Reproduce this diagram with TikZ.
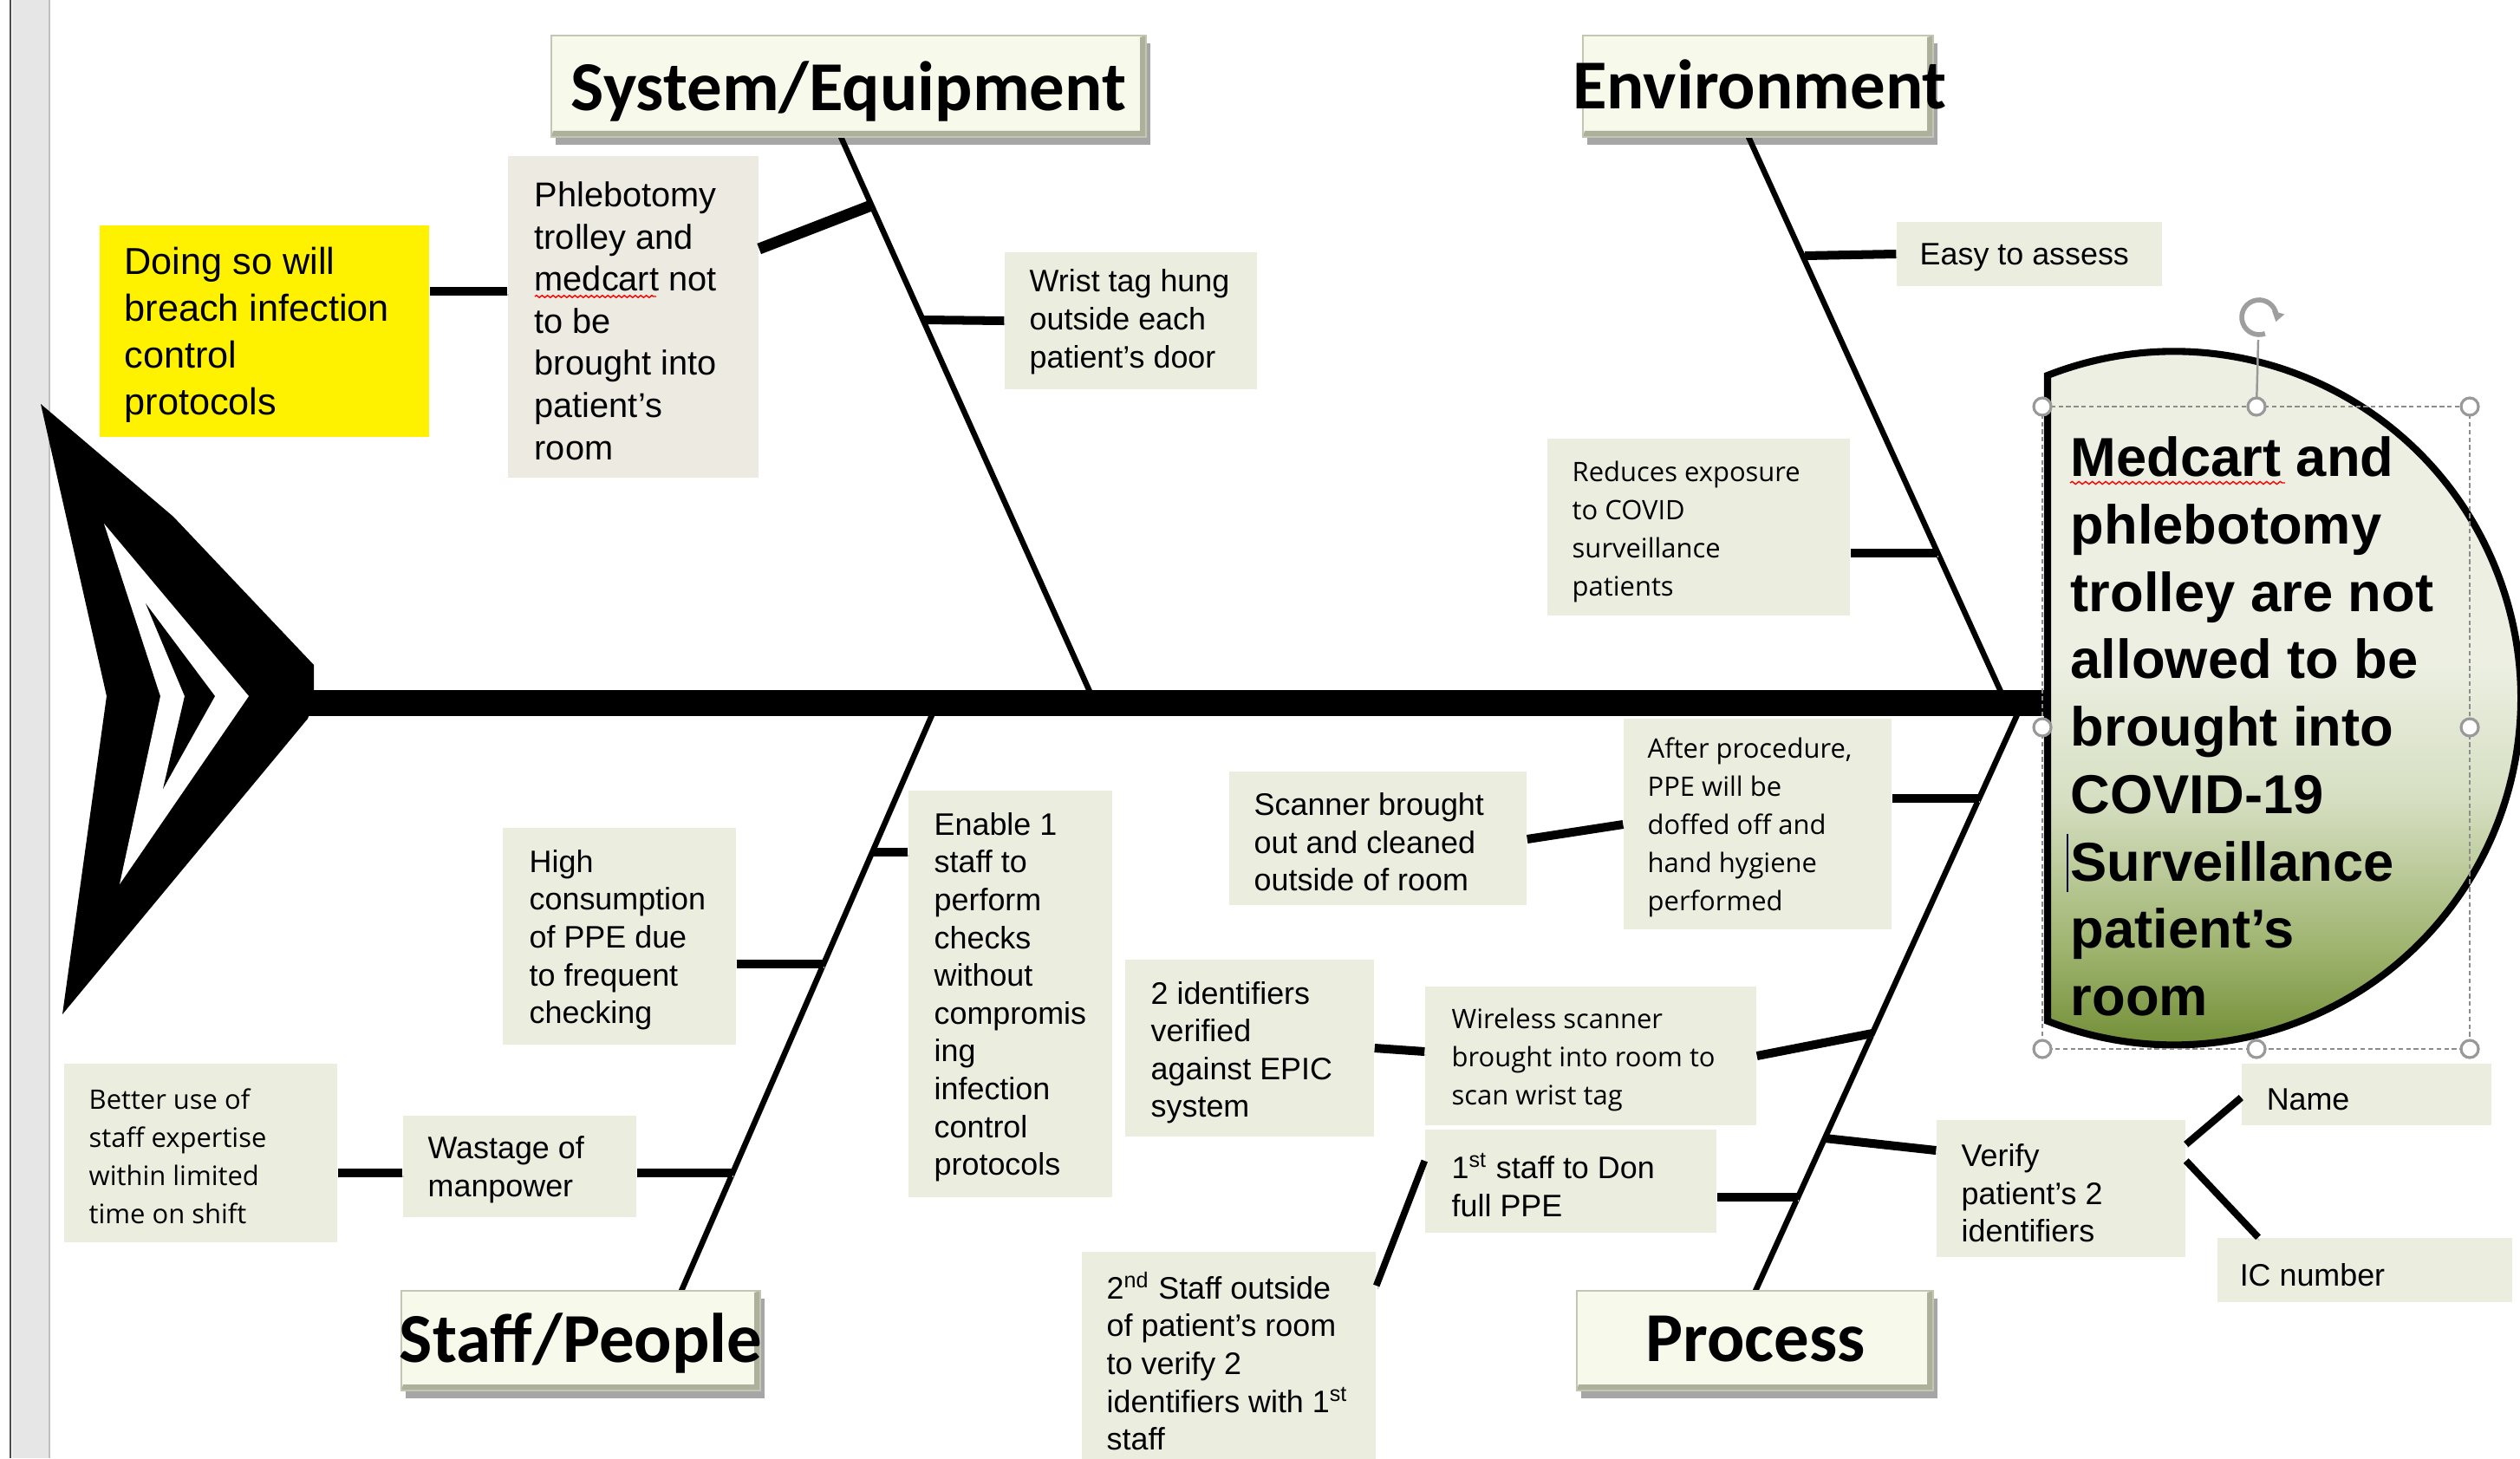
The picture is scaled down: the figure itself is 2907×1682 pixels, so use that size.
\documentclass[tikz,border=0pt]{standalone}
\usepackage{fontspec}
\setmainfont{Liberation Sans}
\newfontfamily\osfont{Open Sans}
\newfontfamily\cbfont{Carlito}
\usetikzlibrary{fit,shadows,decorations.pathmorphing,arrows.meta}
\definecolor{boxfill}{HTML}{EBEEDF}
\definecolor{phlfill}{HTML}{ECEAE1}
\definecolor{labfill}{HTML}{F7F9EA}
\definecolor{labedge}{HTML}{C3C6B2}
\definecolor{labbev}{HTML}{ADB09B}
\definecolor{hgA}{HTML}{6F8C33}
\definecolor{hgB}{HTML}{9FB46F}
\definecolor{hgC}{HTML}{D6DFC2}
\definecolor{hgD}{HTML}{ECEFE2}
\definecolor{barfill}{HTML}{E6E6E6}
\pgfdeclareverticalshading{headshade}{100bp}{color(0bp)=(hgA); color(25bp)=(hgA); color(32bp)=(hgB); color(42bp)=(hgC); color(51bp)=(hgD); color(100bp)=(hgD)}
\newcommand{\myA}{\fontsize{10.2}{12.4}\selectfont}
\newcommand{\myO}{\osfont\fontsize{8.8}{12.5}\selectfont}
\begin{document}
\begin{tikzpicture}[x=0.01cm, y=-0.01cm,
  cbox/.style={fill=boxfill, draw=none, inner sep=0pt},
  txt/.style={anchor=west, align=left, inner sep=0pt, font=\myA, yshift=-1.2pt},
  labbox/.style={fill=labfill, draw=labedge, line width=0.5pt, inner sep=0pt,
    drop shadow={shadow xshift=0.05cm, shadow yshift=-0.09cm, opacity=0.35, fill=black},
    path picture={
      \fill[labbev] (path picture bounding box.south west) -- (path picture bounding box.south east) -- (path picture bounding box.north east) -- ([xshift=-0.07cm,yshift=-0.02cm]path picture bounding box.north east) -- ([shift={(-0.07cm,0.07cm)}]path picture bounding box.south east) -- ([shift={(0.02cm,0.07cm)}]path picture bounding box.south west) -- cycle;
    }},
  labtxt/.style={anchor=base, inner sep=0pt, font=\cbfont\bfseries\fontsize{23}{27}\selectfont},
  conn/.style={line width=2.85pt, preaction={draw=black!22, transform canvas={shift={(0.4pt,-1.1pt)}}}},
  bone/.style={line width=1.85pt, preaction={draw=black!20, transform canvas={shift={(0.6pt,-0.6pt)}}}},
  handle/.style={fill=white, draw=black!40, line width=0.9pt}
]
\useasboundingbox (0,0) rectangle (2907,1682);
\fill[white] (0,0) rectangle (2907,1682);
% left window bar
\fill[barfill] (14,0) rectangle (57,1682);
\draw[black!70, line width=0.6pt] (12,0) -- (12,1682);
\draw[black!25, line width=0.6pt] (57,0) -- (57,1682);

% bone coordinates
\coordinate (sysTop) at (970,158);
\coordinate (sysSp) at (1263,811);
\coordinate (envTop) at (2017,158);
\coordinate (envSp) at (2314,811);
\coordinate (staffBot) at (786,1489);
\coordinate (staffSp) at (1081,811);
\coordinate (procBot) at (2025,1489);
\coordinate (procSp) at (2333,811);
\coordinate (bP) at (1005,237);
\coordinate (bW) at (1065,369);
\coordinate (bE) at (2082,295);
\coordinate (bR) at (2235,638);
\coordinate (bEn) at (1006,983);
\coordinate (bH) at (950,1112);
\coordinate (bWa) at (845,1353);
\coordinate (bA) at (2283,921);
\coordinate (bWi) at (2160,1192);
\coordinate (bF) at (2074,1381);
\coordinate (bV) at (2105,1313);
\coordinate (tailR) at (355,811);
\coordinate (headL) at (2362,811);

% bones
\draw[bone] (sysTop) -- (sysSp);
\draw[bone] (envTop) -- (envSp);
\draw[bone] (staffBot) -- (staffSp);
\draw[bone] (procBot) -- (procSp);

% spine
\draw[line width=8.5pt, preaction={draw=black!25, transform canvas={yshift=-1.6pt}}] (tailR) -- (headL);

% tail
\fill[black] (47,466) -- (200,596) -- (362,767) -- (362,811) -- (355,829) -- (72,1170) -- (123,803) -- cycle;
\fill[white] (120,604) -- (287,803) -- (138,1020) -- (185,803) -- cycle;
\fill[black] (168,696) -- (248,803) -- (188,910) -- (213,803) -- cycle;

% head
\shadedraw[shading=headshade, draw=black, line width=2.3pt] (2362,433) arc[start angle=-111.4, end angle=111.4, radius=400] -- cycle;
\node[anchor=west, align=left, inner sep=0pt, font=\bfseries\fontsize{18}{22.1}\selectfont] (head) at (2388,838) {Medcart and\\phlebotomy\\trolley are not\\allowed to be\\brought into\\COVID-19\\Surveillance\\patient’s\\room};
\draw[red, line width=0.4pt, decorate, decoration={snake, amplitude=0.45pt, segment length=2.2pt}] (2388,557) -- (2636,557);
\draw[black!75!blue, line width=0.4pt] (2385,962) -- (2385,1029);

% category labels
\node[labbox, fit={(636,41)(1322,158)}] (sys) {};
\node[labtxt] (syst) at (979,128) {System/Equipment};
\node[labbox, fit={(1826,41)(2230,158)}] (env) {};
\node[labtxt] (envt) at (2030,126) {Environment};
\node[labbox, fit={(463,1489)(877,1604)}] (staff) {};
\node[labtxt] (stafft) at (670,1571) {Staff/People};
\node[labbox, fit={(1819,1489)(2230,1604)}] (proc) {};
\node[labtxt] (proct) at (2025,1570) {Process};

% boxes
\node[cbox, fill=yellow, fit={(115,260)(495,504)}] (Y) {};
\node[txt, font=\fontsize{12.3}{15.4}\selectfont] (Yt) at (143,382) {Doing so will\\breach infection\\control\\protocols};
\node[cbox, fill=phlfill, fit={(586,180)(875,551)}] (P) {};
\node[txt, font=\fontsize{11.3}{13.8}\selectfont] (Pt) at (616,366) {Phlebotomy\\trolley and\\medcart not\\to be\\brought into\\patient’s\\room};
\draw[red, line width=0.4pt, decorate, decoration={snake, amplitude=0.35pt, segment length=1.8pt}] (617,342) -- (757,342);
\node[cbox, fit={(1159,291)(1450,449)}] (W) {};
\node[txt] (Wt) at (1187,367) {Wrist tag hung\\outside each\\patient’s door};
\node[cbox, fit={(2188,256)(2494,330)}] (E) {};
\node[txt] (Et) at (2214,293) {Easy to assess};
\node[cbox, fit={(1785,506)(2134,710)}] (R) {};
\node[txt, font=\myO] (Rt) at (1813,609) {Reduces exposure\\to COVID\\surveillance\\patients};
\node[cbox, fit={(1873,829)(2182,1072)}] (A) {};
\node[txt, font=\myO] (At) at (1900,950) {After procedure,\\PPE will be\\doffed off and\\hand hygiene\\performed};
\node[cbox, fit={(1418,890)(1761,1044)}] (S) {};
\node[txt] (St) at (1446,967) {Scanner brought\\out and cleaned\\outside of room};
\node[cbox, fit={(1048,912)(1283,1381)}] (En) {};
\node[txt] (Ent) at (1077,1146) {Enable 1\\staff to\\perform\\checks\\without\\compromis\\ing\\infection\\control\\protocols};
\node[cbox, fit={(580,955)(849,1205)}] (H) {};
\node[txt] (Ht) at (610,1080) {High\\consumption\\of PPE due\\to frequent\\checking};
\node[cbox, fit={(465,1287)(734,1404)}] (Wa) {};
\node[txt] (Wat) at (493,1345) {Wastage of\\manpower};
\node[cbox, fit={(74,1227)(389,1433)}] (B) {};
\node[txt, font=\myO] (Bt) at (102,1330) {Better use of\\staff expertise\\within limited\\time on shift};
\node[cbox, fit={(1298,1107)(1585,1311)}] (T) {};
\node[txt] (Tt) at (1327,1210) {2 identifiers\\verified\\against EPIC\\system};
\node[cbox, fit={(1644,1138)(2026,1298)}] (Wi) {};
\node[txt, font=\myO] (Wit) at (1674,1218) {Wireless scanner\\brought into room to\\scan wrist tag};
\node[cbox, fit={(1644,1303)(1980,1422)}] (F) {};
\node[txt] (Ft) at (1674,1363) {1\textsuperscript{st} staff to Don\\full PPE};
\node[cbox, fit={(1248,1444)(1587,1700)}] (Se) {};
\node[txt] (Set) at (1276,1566) {2\textsuperscript{nd} Staff outside\\of patient's room\\to verify 2\\identifiers with 1\textsuperscript{st}\\staff};
\node[cbox, fit={(2234,1292)(2521,1450)}] (V) {};
\node[txt] (Vt) at (2262,1372) {Verify\\patient's 2\\identifiers};
\node[cbox, fit={(2586,1227)(2874,1298)}] (N) {};
\node[txt] (Nt) at (2614,1264) {Name};
\node[cbox, fit={(2558,1428)(2898,1502)}] (I) {};
\node[txt] (It) at (2583,1466) {IC number};

% connectors
\draw[conn] (Y.east |- 0,336) -- (P.west |- 0,336);
\draw[conn, line width=3.7pt] (P.east |- 0,287) -- (bP);
\draw[conn] (bW) -- (W.west);
\draw[conn] (bE) -- (E.west);
\draw[conn] (R.east |- 0,638) -- (bR);
\draw[conn] (A.east |- 0,921) -- (bA);
\draw[conn] (S.east |- 0,968) -- (A.west |- 0,951);
\draw[conn] (bEn) -- (En.west |- 0,983);
\draw[conn] (H.east |- 0,1112) -- (bH);
\draw[conn] (Wa.east |- 0,1353) -- (bWa);
\draw[conn] (B.east |- 0,1353) -- (Wa.west |- 0,1353);
\draw[conn] (T.east |- 0,1209) -- (Wi.west |- 0,1213);
\draw[conn] (Wi.east |- 0,1218) -- (bWi);
\draw[conn] (F.east |- 0,1381) -- (bF);
\draw[conn, line width=2.2pt] (Se.east |- 0,1483) -- (F.west |- 0,1339);
\draw[conn] (V.west |- 0,1327) -- (bV);
\draw[conn, line width=2.3pt] (V.east |- 0,1320) -- (N.west |- 0,1266);
\draw[conn, line width=2.3pt] (V.east |- 0,1339) -- (I.north -| 2605,0);

% selection handles
\draw[black!45, line width=0.5pt, dash pattern=on 1.5pt off 1pt] (2356,469) rectangle (2849,1210);
\draw[black!40, line width=0.7pt] (2603,469) -- (2605,392);
\draw[black!38, line width=1.6pt, -{Triangle[length=0.11cm, width=0.14cm]}] ([shift={(70:20)}]2606,366) arc[start angle=70, end angle=375, radius=20];
\foreach \hx/\hy in {2356/469, 2603/469, 2849/469, 2356/839, 2849/839, 2356/1210, 2603/1210, 2849/1210}
  \draw[handle] (\hx,\hy) circle (10);
\end{tikzpicture}
\end{document}
